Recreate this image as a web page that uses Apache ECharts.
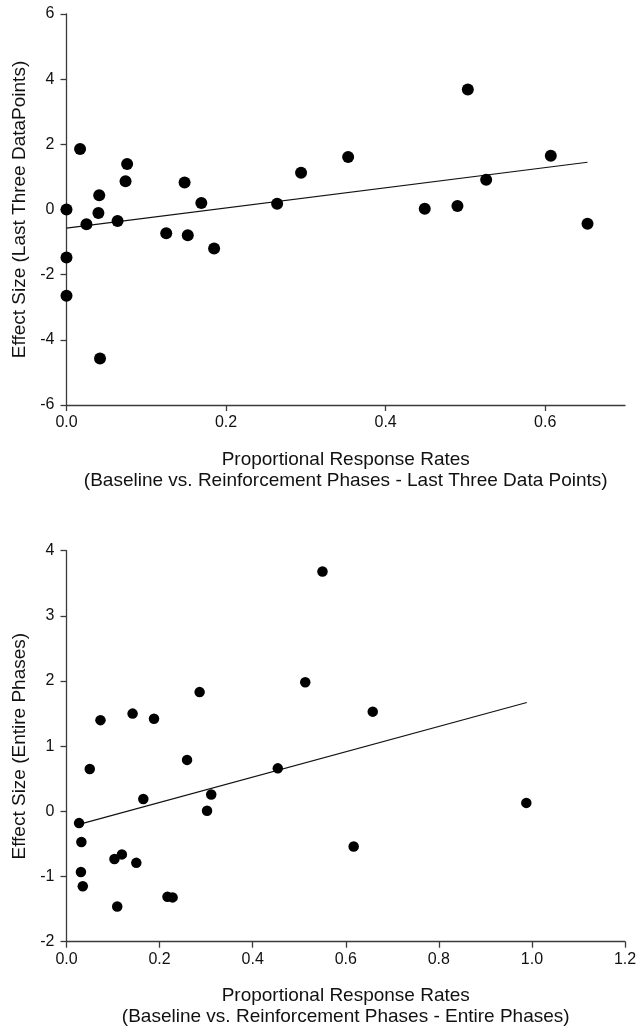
<!DOCTYPE html>
<html>
<head>
<meta charset="utf-8">
<style>
html,body{margin:0;padding:0;background:#fff;}
#chart{width:644px;height:1036px;}
</style>
<script src="https://cdn.jsdelivr.net/npm/echarts@6/dist/echarts.min.js"></script>
</head>
<body>
<div id="chart"></div>
<script>
// Top panel: last three data points
const topX = [0.000,0.017,0.000,0.000,0.025,0.041,0.040,0.042,0.064,0.074,0.076,0.125,0.148,0.152,0.169,0.185,0.264,0.294,0.353,0.449,0.490,0.503,0.526,0.607,0.653];
const topY = [0.00,1.86,-1.47,-2.65,-0.45,0.44,-0.11,-4.57,-0.35,0.87,1.40,-0.73,0.83,-0.79,0.20,-1.20,0.18,1.13,1.61,0.02,0.11,3.68,0.91,1.65,-0.44];
const topFitX = [0.000,0.653];
const topFitY = [-0.57,1.45];
const topXTicks = [0.0,0.2,0.4,0.6];
const topYTicks = [-6,-4,-2,0,2,4,6];

// Bottom panel: entire phases
const botX = [0.027,0.032,0.031,0.035,0.050,0.073,0.103,0.109,0.119,0.142,0.150,0.165,0.188,0.217,0.228,0.259,0.286,0.302,0.311,0.454,0.513,0.550,0.617,0.658,0.988];
const botY = [-0.18,-0.47,-0.93,-1.15,0.65,1.40,-0.73,-1.46,-0.66,1.50,-0.79,0.19,1.42,-1.31,-1.32,0.79,1.83,0.01,0.26,0.66,1.98,3.68,-0.54,1.53,0.13];
const botFitX = [0.027,0.989];
const botFitY = [-0.20,1.67];
const botXTicks = [0.0,0.2,0.4,0.6,0.8,1.0,1.2];
const botYTicks = [-2,-1,0,1,2,3,4];

const topXName = 'Proportional Response Rates\n(Baseline vs. Reinforcement Phases - Last Three Data Points)';
const topYName = 'Effect Size (Last Three DataPoints)';
const botXName = 'Proportional Response Rates\n(Baseline vs. Reinforcement Phases - Entire Phases)';
const botYName = 'Effect Size (Entire Phases)';

const FONT = '"Liberation Sans", Arial, sans-serif';
const AXIS_COLOR = '#3a3a3a';

function pairs(xs, ys){ return xs.map((x,i)=>[x, ys[i]]); }

function xAxisCfg(gridIndex, ticks, max, name){
  return {
    type:'value', gridIndex, min:0, max, interval:0.2,
    name, nameLocation:'middle', nameGap:44,
    nameTextStyle:{fontFamily:FONT, fontSize:19, color:'#111', lineHeight:21},
    axisLine:{show:true, onZero:false, lineStyle:{color:AXIS_COLOR, width:1.3}},
    axisTick:{show:true, inside:false, length:6, lineStyle:{color:AXIS_COLOR, width:1.3},
      customValues: ticks},
    axisLabel:{fontFamily:FONT, fontSize:16, color:'#111', margin:10,
      customValues: ticks,
      formatter:(v)=>v.toFixed(1)},
    splitLine:{show:false}
  };
}
function yAxisCfg(gridIndex, ticks, min, max, interval, name){
  return {
    type:'value', gridIndex, min, max, interval,
    name, nameLocation:'middle', nameGap:32, nameRotate:90,
    nameTextStyle:{fontFamily:FONT, fontSize:19, color:'#111'},
    axisLine:{show:true, onZero:false, lineStyle:{color:AXIS_COLOR, width:1.3}},
    axisTick:{show:true, inside:false, length:6, lineStyle:{color:AXIS_COLOR, width:1.3}},
    axisLabel:{fontFamily:FONT, fontSize:16, color:'#111', margin:12},
    splitLine:{show:false}
  };
}

const chart = echarts.init(document.getElementById('chart'), null, {renderer:'canvas'});
chart.setOption({
  backgroundColor:'#ffffff',
  animation:false,
  grid:[
    {left:66.5, right:19, top:14, height:391},
    {left:66.5, right:19, top:550.7, height:391}
  ],
  xAxis:[
    xAxisCfg(0, topXTicks, 0.7, topXName),
    xAxisCfg(1, botXTicks, 1.2, botXName)
  ],
  yAxis:[
    yAxisCfg(0, topYTicks, -6, 6, 2, topYName),
    yAxisCfg(1, botYTicks, -2, 4, 1, botYName)
  ],
  series:[
    {type:'line', xAxisIndex:0, yAxisIndex:0, data:pairs(topFitX, topFitY), symbol:'none',
      lineStyle:{color:'#111', width:1.2}, z:2},
    {type:'scatter', xAxisIndex:0, yAxisIndex:0, data:pairs(topX, topY), symbolSize:12,
      itemStyle:{color:'#000', opacity:1}, z:3},
    {type:'line', xAxisIndex:1, yAxisIndex:1, data:pairs(botFitX, botFitY), symbol:'none',
      lineStyle:{color:'#111', width:1.2}, z:2},
    {type:'scatter', xAxisIndex:1, yAxisIndex:1, data:pairs(botX, botY), symbolSize:10.5,
      itemStyle:{color:'#000', opacity:1}, z:3}
  ]
});
</script>
</body>
</html>
